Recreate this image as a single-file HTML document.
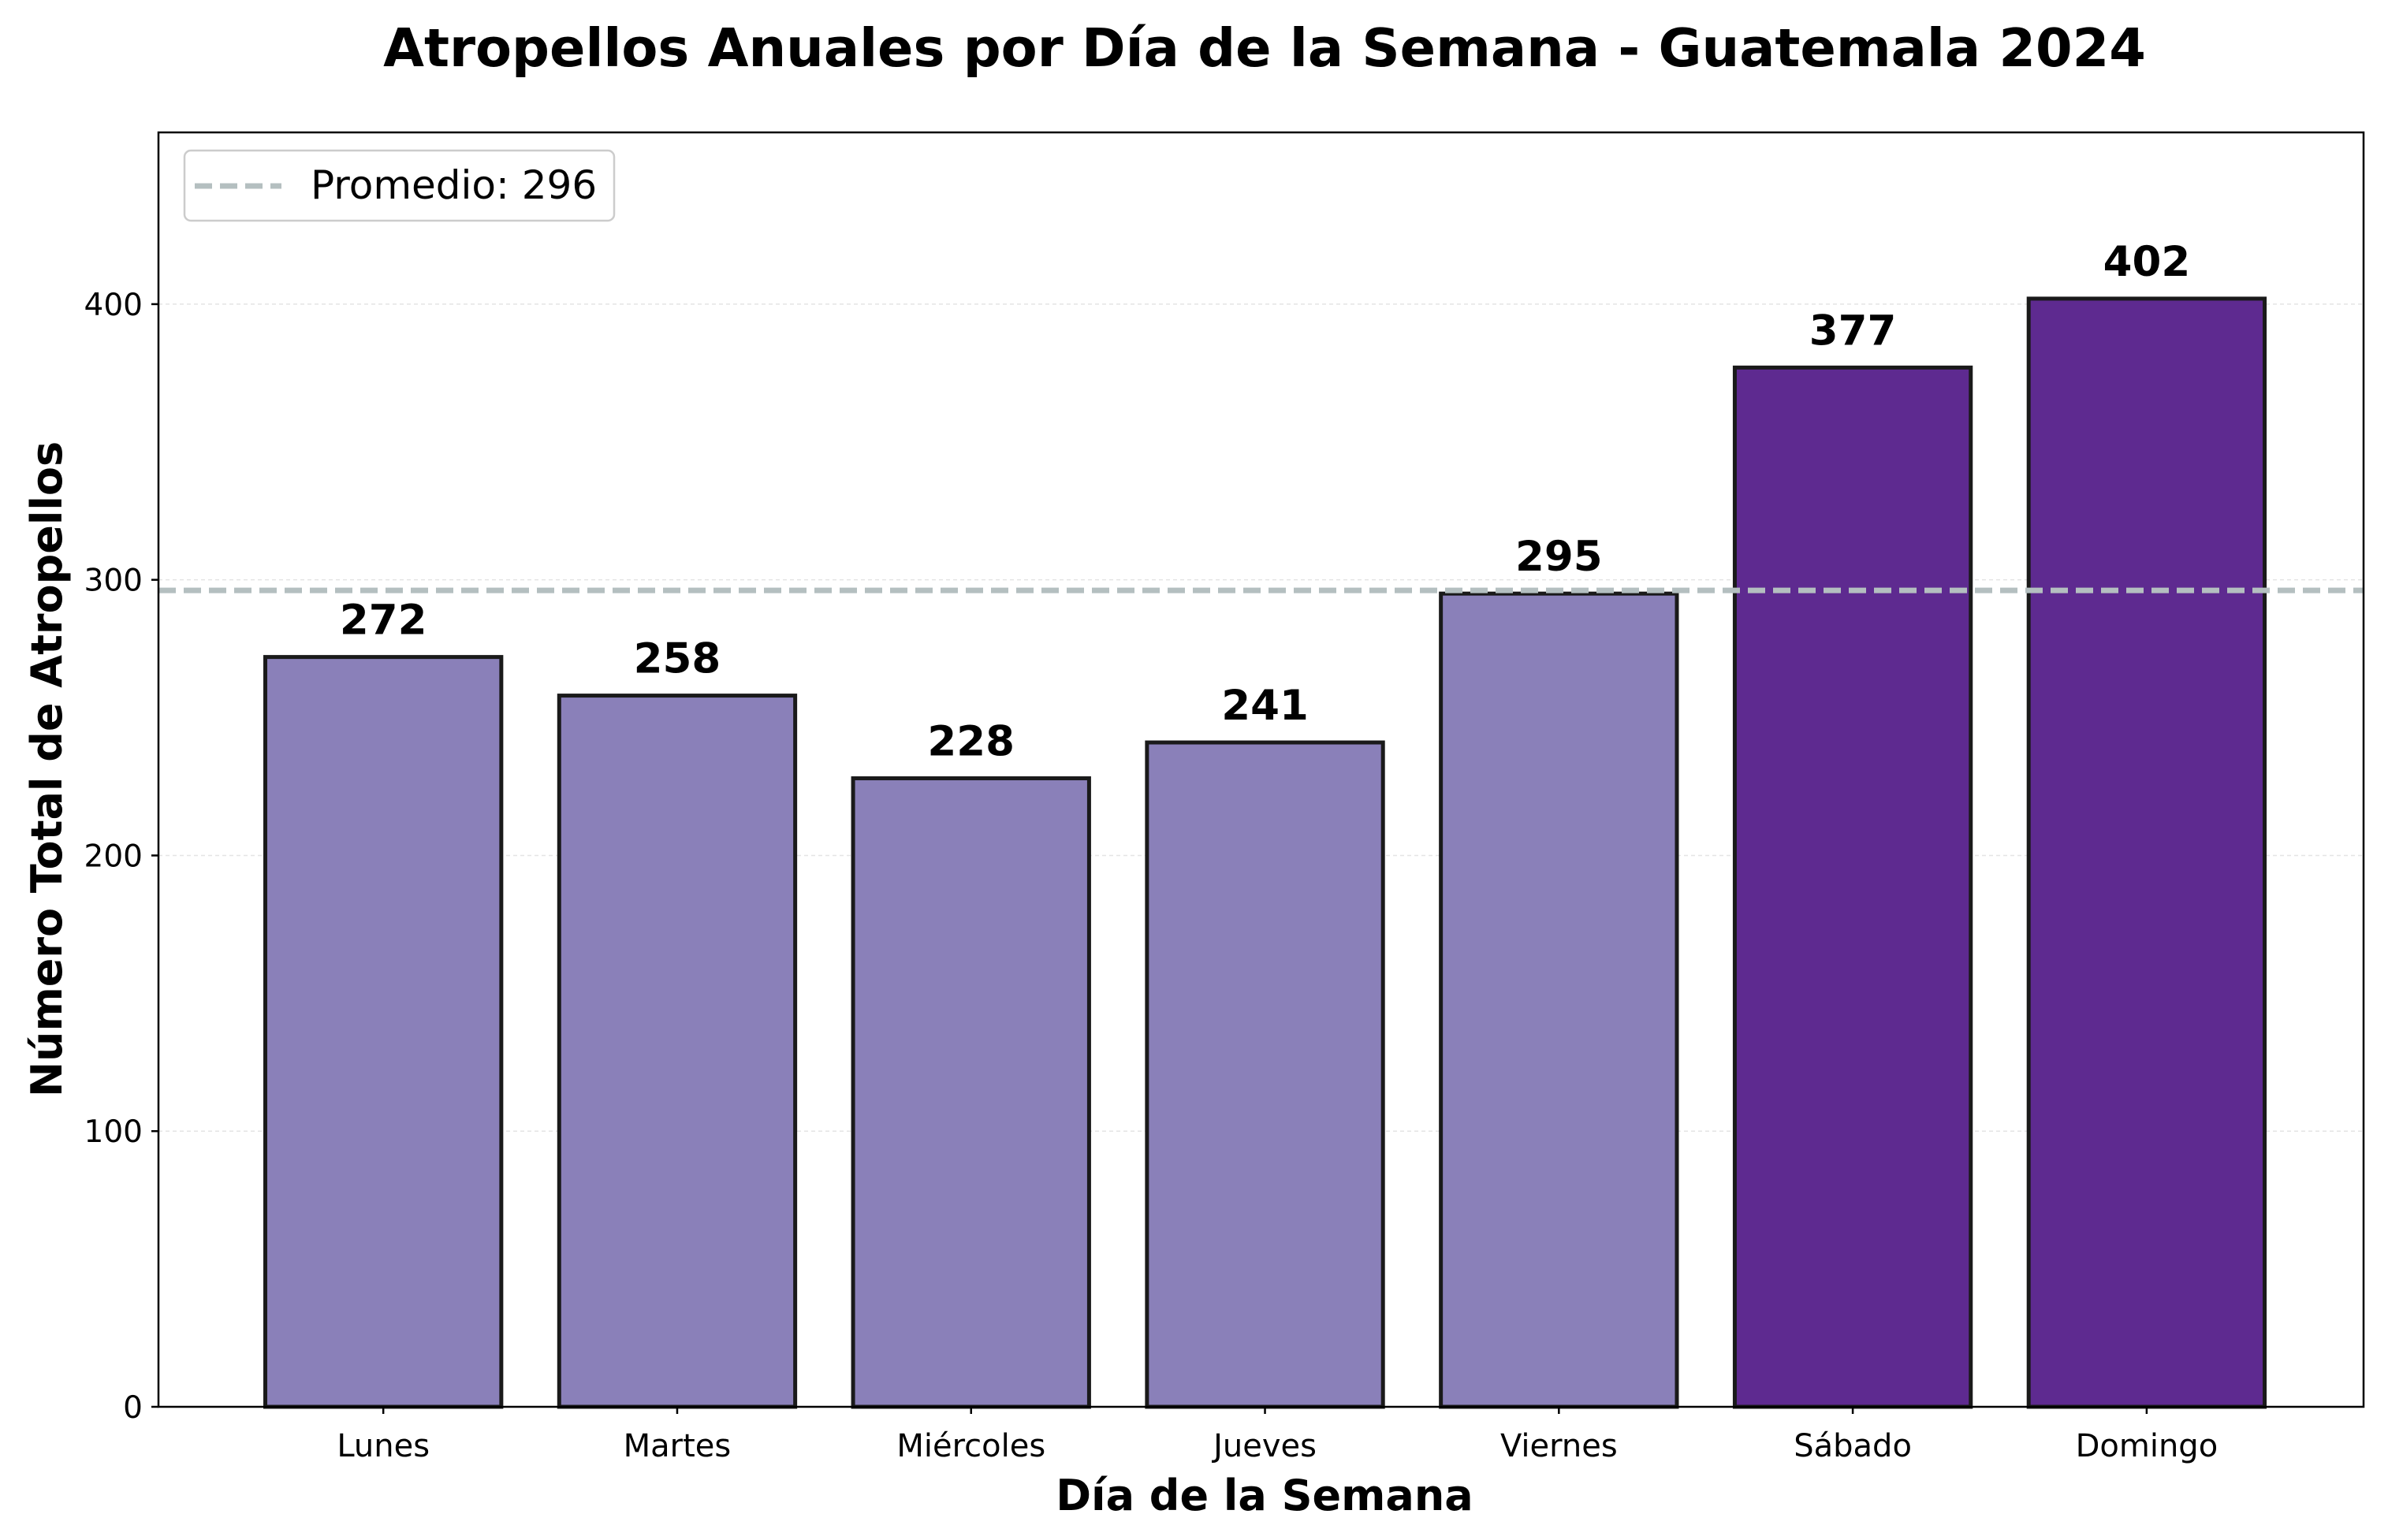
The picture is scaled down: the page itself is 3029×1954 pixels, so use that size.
<!DOCTYPE html>
<html><head><meta charset="utf-8"><style>
html,body{margin:0;padding:0;background:#fff;}
svg{display:block;font-family:"DejaVu Sans","Liberation Sans",sans-serif;}
</style></head><body>
<svg id="chart" width="3029" height="1954" viewBox="0 0 3029 1954">
<text x="1604" y="84" text-anchor="middle" font-size="67" font-weight="bold">Atropellos Anuales por Día de la Semana - Guatemala 2024</text>
<g id="grid"></g><g id="bars"></g><g id="labels"></g><g id="ticks"></g>
<rect x="201" y="168" width="2797" height="1617" fill="none" stroke="#000" stroke-width="2.5"/>
<text x="1604" y="1916" text-anchor="middle" font-size="54" font-weight="bold">Día de la Semana</text>
<text transform="translate(78,976) rotate(-90)" text-anchor="middle" font-size="54" font-weight="bold">Número Total de Atropellos</text>
<g>
<rect x="234" y="191" width="545" height="89" rx="8" fill="#fff" fill-opacity="0.8" stroke="#ccc" stroke-width="2.5"/>
<line x1="247" y1="236" x2="357" y2="236" stroke="#b4bfc0" stroke-width="7" stroke-dasharray="22,10"/>
<text x="394" y="252" font-size="50">Promedio: 296</text>
</g>
</svg>
<script>
const categories=["Lunes","Martes","Miércoles","Jueves","Viernes","Sábado","Domingo"];
const values=[272,258,228,241,295,377,402];
const yTicks=[0,100,200,300,400];
const NS="http://www.w3.org/2000/svg";
const L=201,R=2998,T=168,B=1785,yMax=462.3,xMin=-0.765,xMax=6.738;
const X=i=>L+(i-xMin)/(xMax-xMin)*(R-L);
const Y=v=>B-v/yMax*(B-T);
const bw=0.803*(X(1)-X(0));
function mk(tag,a,p){const e=document.createElementNS(NS,tag);for(const k in a)e.setAttribute(k,a[k]);document.getElementById(p).appendChild(e);return e;}
yTicks.forEach(t=>{
 if(t>0){const g=mk('line',{x1:L,x2:R,y1:Y(t),y2:Y(t),stroke:'#e4e4e4','stroke-width':1.5,'stroke-dasharray':'5,4'},'grid');
 
 }
 const tk=mk('line',{x1:L-9,x2:L,y1:Y(t),y2:Y(t),stroke:'#000','stroke-width':2.5},'ticks');
 
 
 const tl=mk('text',{x:L-20,y:Y(t)+14,'text-anchor':'end','font-size':39},'ticks');tl.textContent=t;
 
 
});
const mean=values.reduce((a,b)=>a+b,0)/values.length;
categories.forEach((c,i)=>{
 const v=values[i];
 const b=mk('rect',{x:X(i)-bw/2,y:Y(v),width:bw,height:B-Y(v),fill:i>=5?'#5e2a90':'#8a80b9',stroke:'#1a1a1a','stroke-width':5},'bars');
 
 
 const vl=mk('text',{x:X(i),y:Y(v)-29,'text-anchor':'middle','font-size':53,'font-weight':'bold'},'labels');vl.textContent=v;
 
 
 const tk=mk('line',{x1:X(i),x2:X(i),y1:B,y2:B+9,stroke:'#000','stroke-width':2.5},'ticks');
 
 
 const tl=mk('text',{x:X(i),y:B+63,'text-anchor':'middle','font-size':40},'ticks');tl.textContent=c;
 
 
});
const ml=mk('line',{x1:L,x2:R,y1:Y(mean),y2:Y(mean),stroke:'#b4bfc0','stroke-width':7,'stroke-dasharray':'22,10'},'labels');


</script>
</body></html>
